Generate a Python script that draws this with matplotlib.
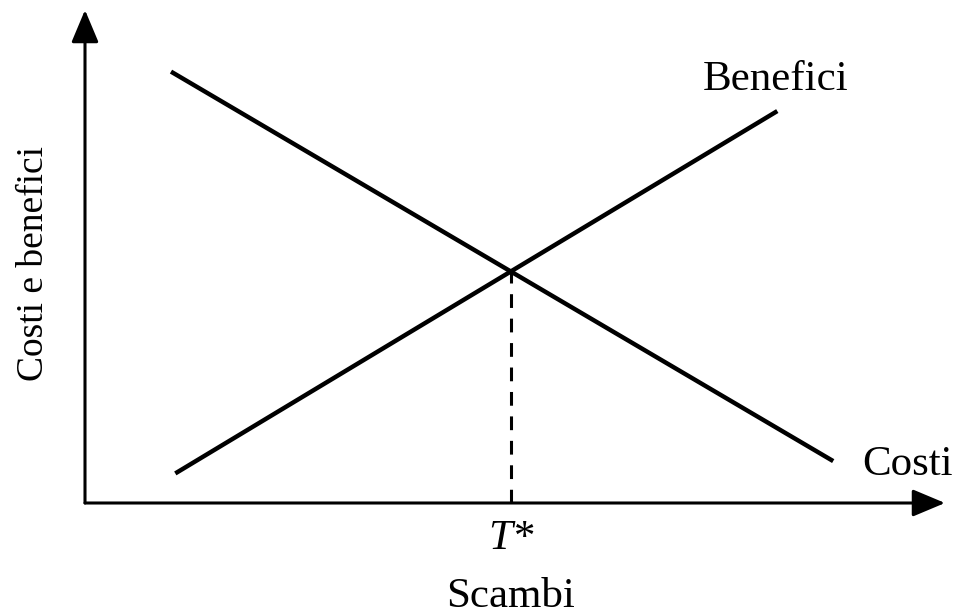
import matplotlib
matplotlib.use("Agg")
import matplotlib.pyplot as plt

plt.rcParams['font.family'] = ['Liberation Serif', 'DejaVu Serif']

# Data (schematic units)
costi_x = [1.0, 8.7]
costi_y = [8.75, 0.85]
benefici_x = [1.05, 8.05]
benefici_y = [0.6, 7.95]
t_star_x = 4.95
t_star_y = 4.70
x_max = 10.0
y_max = 10.0

W, H = 965, 615
fig = plt.figure(figsize=(W / 100, H / 100), dpi=100)
ox, oy = 85, 503
ax = fig.add_axes([ox / W, (H - oy) / H, (945 - ox) / W, (oy - 10) / H])
ax.set_xlim(0, x_max)
ax.set_ylim(0, y_max)
ax.axis('off')

# Axes with arrows
arrow_kw = dict(arrowstyle='-|>,head_length=1.0,head_width=0.42', mutation_scale=20,
                lw=2.2, color='black', shrinkA=0, shrinkB=0)
ax.annotate('', xy=(x_max, 0), xytext=(0, 0), arrowprops=arrow_kw, annotation_clip=False)
ax.annotate('', xy=(0, y_max), xytext=(0, 0), arrowprops=arrow_kw, annotation_clip=False)

# Lines
ax.plot(costi_x, costi_y, color='black', lw=3.2, solid_capstyle='butt')
ax.plot(benefici_x, benefici_y, color='black', lw=3.2, solid_capstyle='butt')
ax.plot([t_star_x, t_star_x], [0, t_star_y], color='black', lw=2.2,
        linestyle=(0, (4.5, 3.5)))

# Labels
ax.text(benefici_x[1] - 0.02, benefici_y[1] + 0.63, 'Benefici', fontsize=31,
        ha='center', va='center')
ax.text(costi_x[1] + 0.86, costi_y[1] - 0.08, 'Costi', fontsize=31,
        ha='center', va='center')
ax.text(t_star_x, -0.72, 'T*', fontsize=31, style='italic', ha='center', va='center')
ax.text(t_star_x, -1.9, 'Scambi', fontsize=31, ha='center', va='center')
ax.text(-0.6, 4.85, 'Costi e benefici', fontsize=27, rotation=90,
        ha='center', va='center')

fig.savefig('out.png', dpi=100, facecolor='white')
